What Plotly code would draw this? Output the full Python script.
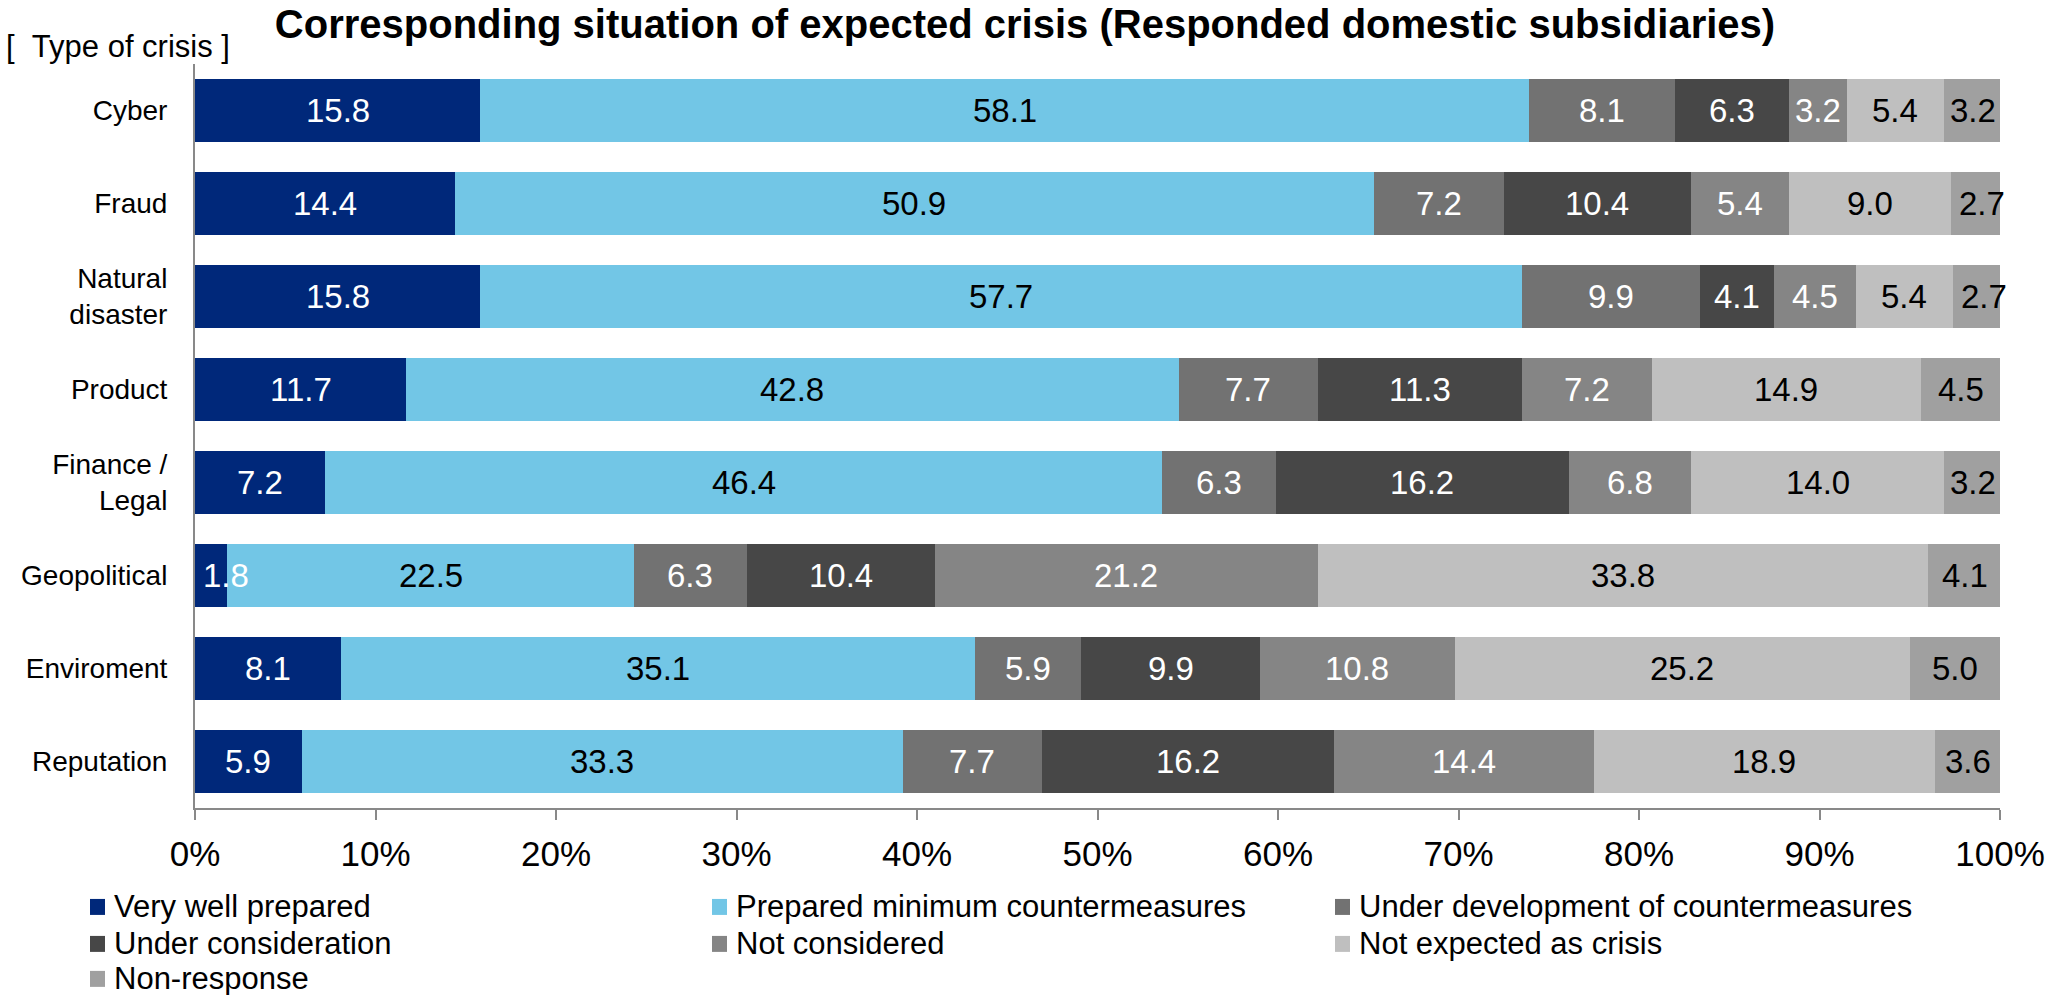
import plotly.graph_objects as go

# Crisis types, top to bottom
categories = ["Cyber", "Fraud", "Natural<br>disaster", "Product", "Finance /<br>Legal",
              "Geopolitical", "Enviroment", "Reputation"]

# Share of respondents per corresponding situation (%)
very_well_prepared = [15.8, 14.4, 15.8, 11.7, 7.2, 1.8, 8.1, 5.9]
prepared_minimum = [58.1, 50.9, 57.7, 42.8, 46.4, 22.5, 35.1, 33.3]
under_development = [8.1, 7.2, 9.9, 7.7, 6.3, 6.3, 5.9, 7.7]
under_consideration = [6.3, 10.4, 4.1, 11.3, 16.2, 10.4, 9.9, 16.2]
not_considered = [3.2, 5.4, 4.5, 7.2, 6.8, 21.2, 10.8, 14.4]
not_expected = [5.4, 9.0, 5.4, 14.9, 14.0, 33.8, 25.2, 18.9]
non_response = [3.2, 2.7, 2.7, 4.5, 3.2, 4.1, 5.0, 3.6]

series_names = ["Very well prepared", "Prepared minimum countermeasures",
                "Under development of countermeasures", "Under consideration",
                "Not considered", "Not expected as crisis", "Non-response"]
series_values = [very_well_prepared, prepared_minimum, under_development,
                 under_consideration, not_considered, not_expected, non_response]
series_colors = ["#00287A", "#72C6E6", "#727272", "#474747", "#858585", "#BFBFBF", "#A0A0A0"]
label_colors = ["white", "black", "white", "white", "white", "black", "black"]

x_ticks = list(range(0, 101, 10))
x_tick_labels = [f"{t}%" for t in x_ticks]

FONT = "Liberation Sans, Arial, sans-serif"

# Figure geometry in pixels
W, H = 2067, 995
PL, PR, PT, PB = 195, 2000, 63.5, 808   # plot area edges


def px_x(px):
    return (px - PL) / (PR - PL)


def px_y(py):
    return (PB - py) / (PB - PT)


fig = go.Figure()
for name, vals, color in zip(series_names, series_values, series_colors):
    fig.add_trace(go.Bar(
        y=categories, x=vals, name=name, orientation="h",
        marker=dict(color=color, line=dict(width=0)),
        hoverinfo="x+name",
    ))

annotations = []
shapes = []

# Value labels centred in each segment, drawn above all bars
for ci, cat in enumerate(categories):
    left = 0.0
    for vals, lc in zip(series_values, label_colors):
        v = vals[ci]
        narrow = v < 3.0
        annotations.append(dict(
            x=left if narrow else left + v / 2, y=cat, xref="x", yref="y",
            xanchor="left" if narrow else "center", xshift=6 if narrow else 0,
            text=f"{v:.1f}", showarrow=False,
            font=dict(family=FONT, size=33, color=lc),
        ))
        left += v

# Axis caption for the category axis
annotations.append(dict(
    x=px_x(4), y=px_y(46), xref="paper", yref="paper", xanchor="left", yanchor="middle",
    text="[&nbsp;&nbsp;Type of crisis&nbsp;]",
    showarrow=False,
    font=dict(family=FONT, size=31, color="black"),
))

# Legend: three columns of square swatches with labels
col_swatch = [90, 712, 1335]
row_y = [907, 944, 979]
for i, (name, color) in enumerate(zip(series_names, series_colors)):
    cx, ry = col_swatch[i % 3], row_y[i // 3]
    shapes.append(dict(
        type="rect", xref="paper", yref="paper",
        x0=px_x(cx), x1=px_x(cx + 15), y0=px_y(ry - 8), y1=px_y(ry + 8),
        fillcolor=color, line=dict(width=0),
    ))
    annotations.append(dict(
        x=px_x(cx + 22), y=px_y(ry), xref="paper", yref="paper",
        xanchor="left", yanchor="middle", text=name, showarrow=False,
        font=dict(family=FONT, size=31, color="black"),
    ))

fig.update_layout(
    width=W, height=H,
    barmode="stack", bargap=0.333,
    plot_bgcolor="white", paper_bgcolor="white",
    margin=dict(l=PL, r=W - PR, t=PT, b=H - PB, autoexpand=False),
    font=dict(family=FONT, color="black"),
    showlegend=False,
    title=dict(
        text="<b>Corresponding situation of expected crisis (Responded domestic subsidiaries)</b>",
        x=1025 / W, xanchor="center", y=1 - 24 / H, yanchor="middle",
        yref="container", xref="container",
        font=dict(family=FONT, size=40, color="black"),
    ),
    xaxis=dict(
        range=[0, 100], tickvals=x_ticks, ticktext=x_tick_labels,
        showgrid=False, zeroline=False, automargin=False,
        showline=True, linecolor="#898989", linewidth=2,
        ticks="outside", ticklen=10, tickwidth=2, tickcolor="#898989",
        tickfont=dict(family=FONT, size=35, color="black"),
        ticklabelstandoff=4,
    ),
    yaxis=dict(
        autorange="reversed", showgrid=False, zeroline=False, automargin=False,
        showline=True, linecolor="#898989", linewidth=2,
        ticks="", tickfont=dict(family=FONT, size=28, color="black"),
        ticklabelstandoff=20,
    ),
    annotations=annotations,
    shapes=shapes,
)

fig.write_html("out.html")
